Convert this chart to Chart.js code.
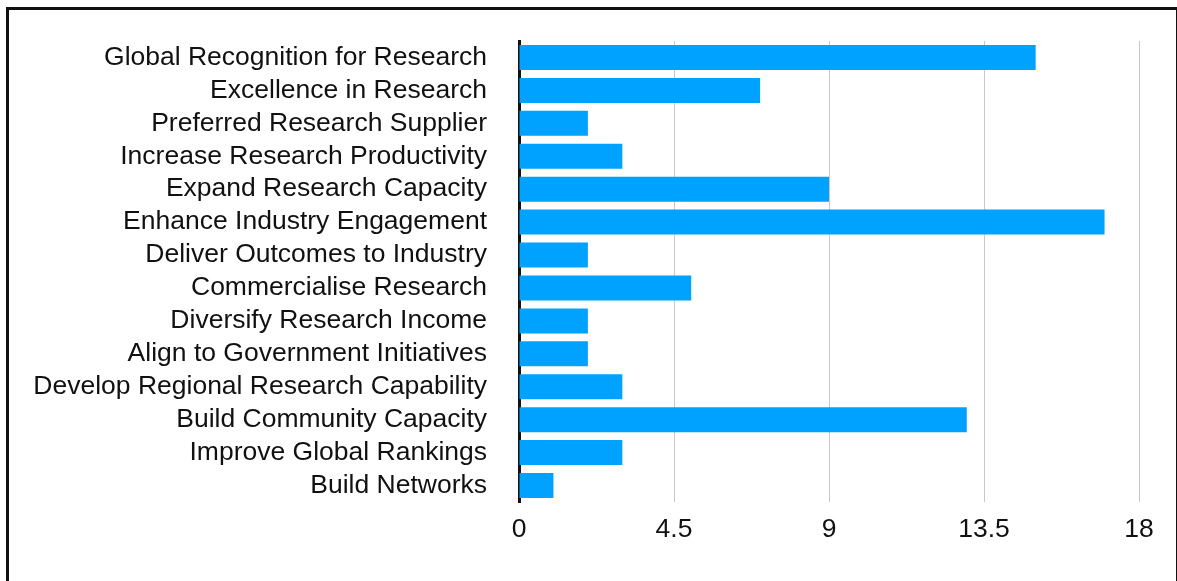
<!DOCTYPE html>
<html>
<head>
<meta charset="utf-8">
<script src="https://cdn.jsdelivr.net/npm/chart.js@4/dist/chart.umd.min.js"></script>
<style>
  html, body { margin: 0; padding: 0; background: #fff; }
  #wrap { position: relative; width: 1177px; height: 581px; overflow: hidden; }
  #frame { position: absolute; left: 6px; top: 7px; width: 1167px; height: 700px;
           border: 3px solid #111; border-bottom: none; box-sizing: content-box; pointer-events: none; }
  canvas { position: absolute; left: 0; top: 0; }
</style>
</head>
<body>
<div id="wrap">
  <canvas id="c" width="1177" height="581"></canvas>
  <div id="frame"></div>
</div>
<script>
const categories = [
  "Global Recognition for Research",
  "Excellence in Research",
  "Preferred Research Supplier",
  "Increase Research Productivity",
  "Expand Research Capacity",
  "Enhance Industry Engagement",
  "Deliver Outcomes to Industry",
  "Commercialise Research",
  "Diversify Research Income",
  "Align to Government Initiatives",
  "Develop Regional Research Capability",
  "Build Community Capacity",
  "Improve Global Rankings",
  "Build Networks"
];
const values = [15, 7, 2, 3, 9, 17, 2, 5, 2, 2, 3, 13, 3, 1];
const xTickValues = [0, 4.5, 9, 13.5, 18];

const FONT = "'Liberation Sans', Arial, Helvetica, sans-serif";

new Chart(document.getElementById('c'), {
  type: 'bar',
  data: {
    labels: categories,
    datasets: [{
      data: values,
      backgroundColor: '#00A2FF',
      borderWidth: 0,
      barPercentage: 0.76,
      categoryPercentage: 1.0
    }]
  },
  options: {
    indexAxis: 'y',
    responsive: false,
    animation: false,
    devicePixelRatio: 1,
    layout: { padding: { left: 0, right: 38, top: 41, bottom: 0 } },
    plugins: { legend: { display: false }, tooltip: { enabled: false } },
    scales: {
      x: {
        min: 0, max: 18,
        afterBuildTicks(scale) { scale.ticks = xTickValues.map(v => ({ value: v })); },
        afterFit(scale) { scale.height = 79; },
        grid: { color: '#c8c8c8', lineWidth: 1, drawTicks: false },
        border: { display: false },
        ticks: {
          padding: 12,
          color: '#111',
          font: { family: FONT, size: 26.5 },
          maxRotation: 0,
          callback: (v) => String(v)
        }
      },
      y: {
        afterFit(scale) { scale.width = 519; scale.paddingTop = 0; scale.paddingBottom = 0; },
        grid: { display: false, drawTicks: false },
        border: { display: true, color: '#111', width: 3 },
        ticks: {
          padding: 32,
          color: '#111',
          font: { family: FONT, size: 26.5 },
          autoSkip: false
        }
      }
    }
  }
});
</script>
</body>
</html>
